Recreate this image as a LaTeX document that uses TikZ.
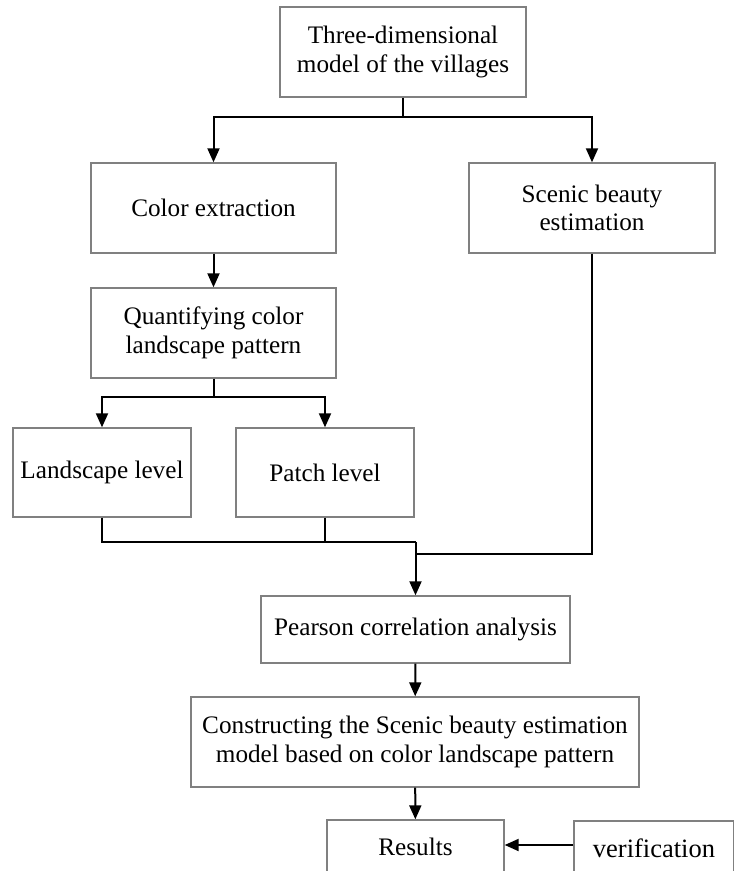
\documentclass[tikz,border=0pt]{standalone}
\usepackage{fontspec}
\setmainfont{Liberation Serif}
\usetikzlibrary{arrows.meta}
\begin{document}
\begin{tikzpicture}[x=1pt,y=-1pt,
  box/.style={draw=black!50, line width=1.4pt, fill=white, inner sep=0pt, align=center,
    font=\fontsize{25.2}{28.5}\selectfont},
  conn/.style={draw=black, line width=2pt},
  arr/.style={conn, -{Triangle[width=12pt,length=14pt]}}]
\fill[white] (0,0) rectangle (734,871);
\clip (0,0) rectangle (734,871);
\useasboundingbox (0,0) rectangle (734,871);
% nodes
\node[box, minimum width=246pt, minimum height=90pt] (top) at (403,52) {Three-dimensional\\model of the villages};
\node[box, minimum width=245pt, minimum height=90pt] (color) at (213.5,208) {Color extraction};
\node[box, minimum width=246pt, minimum height=90pt] (scenic) at (592,208) {Scenic beauty\\estimation};
\node[box, minimum width=245pt, minimum height=90pt] (quant) at (213.5,333) {Quantifying color\\landscape pattern};
\node[box, minimum width=178pt, minimum height=89pt] (land) at (102,472.5) {Landscape level};
\node[box, minimum width=178pt, minimum height=89pt] (patch) at (325,472.5) {Patch level};
\node[box, minimum width=309pt, minimum height=67pt] (pearson) at (415.5,629.5) {Pearson correlation analysis};
\node[box, minimum width=448pt, minimum height=90pt] (construct) at (415,742) {Constructing the Scenic beauty estimation\\model based on color landscape pattern};
\node[box, minimum width=177pt, minimum height=54pt] (results) at (415.5,847) {Results};
\node[box, minimum width=160pt, minimum height=54pt, font=\fontsize{26.5}{30}\selectfont] (verif) at (654,848) {verification};
% junctions
\coordinate (j1) at (403,117);
\coordinate (j2) at (213.5,397);
\coordinate (j3) at (415.5,542);
\coordinate (j4) at (415.5,554);
% connectors
\draw[conn] (top) -- (j1);
\draw[arr] (j1) -| (color);
\draw[arr] (j1) -| (scenic);
\draw[arr] (color) -- (quant);
\draw[conn] (quant) -- (j2);
\draw[arr] (j2) -| (land);
\draw[arr] (j2) -| (patch);
\draw[conn] (land) |- (j3);
\draw[conn] (patch) -- (patch |- j3);
\draw[conn] (scenic) |- (j4);
\draw[arr] (j3) -- (pearson);
\draw[arr] (pearson) -- (construct);
\draw[arr] (construct) -- (results);
\draw[arr] ([yshift=3pt]verif.west) -- ([yshift=2pt]results.east);
\end{tikzpicture}
\end{document}
